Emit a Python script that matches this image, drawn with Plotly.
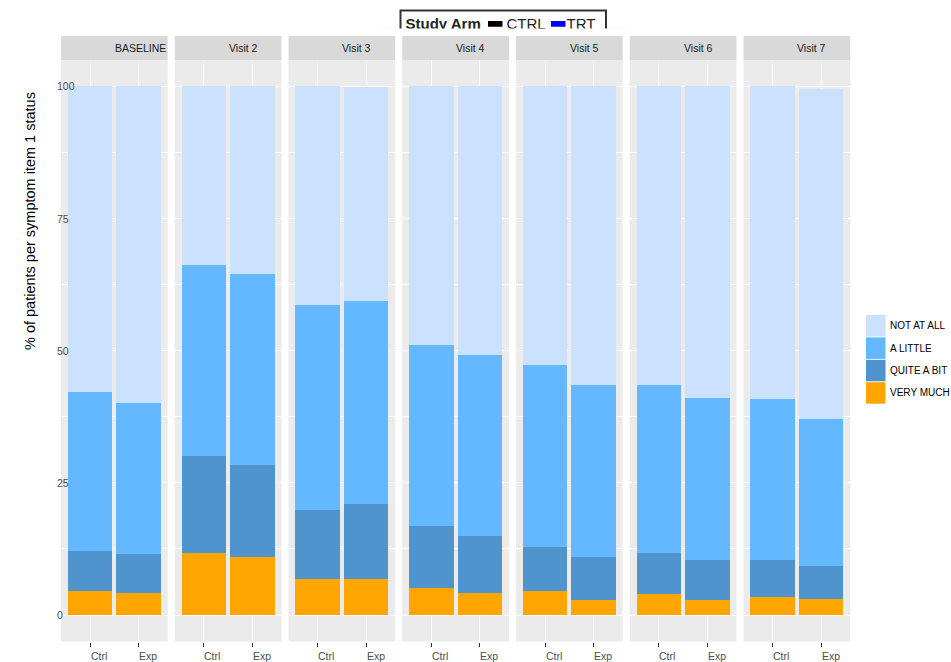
import plotly.graph_objects as go

# ---------------- data ----------------
visits = ["BASELINE", "Visit 2", "Visit 3", "Visit 4", "Visit 5", "Visit 6", "Visit 7"]
arms = ["Ctrl", "Exp"]
levels = ["VERY MUCH", "QUITE A BIT", "A LITTLE", "NOT AT ALL"]   # stacked bottom -> top
legend_order = ["NOT AT ALL", "A LITTLE", "QUITE A BIT", "VERY MUCH"]
level_colors = {"NOT AT ALL": "#CAE1FF", "A LITTLE": "#63B8FF",
                "QUITE A BIT": "#4F94CD", "VERY MUCH": "#FFA500"}

very_much_ctrl = [4.5, 11.8, 6.9, 5.2, 4.5, 3.9, 3.5]
very_much_exp = [4.1, 11.0, 6.9, 4.1, 2.8, 2.9, 3.1]
quite_a_bit_ctrl = [7.7, 18.2, 13.0, 11.7, 8.4, 7.9, 7.0]
quite_a_bit_exp = [7.5, 17.3, 14.1, 10.9, 8.2, 7.6, 6.2]
a_little_ctrl = [30.0, 36.3, 38.7, 34.2, 34.4, 31.7, 30.4]
a_little_exp = [28.6, 36.3, 38.5, 34.2, 32.5, 30.6, 27.7]
not_at_all_ctrl = [57.8, 33.7, 41.4, 48.9, 52.7, 56.5, 59.1]
not_at_all_exp = [59.8, 35.4, 40.3, 50.8, 56.5, 58.9, 62.6]

series = {
    "VERY MUCH": (very_much_ctrl, very_much_exp),
    "QUITE A BIT": (quite_a_bit_ctrl, quite_a_bit_exp),
    "A LITTLE": (a_little_ctrl, a_little_exp),
    "NOT AT ALL": (not_at_all_ctrl, not_at_all_exp),
}

y_ticks = [0, 25, 50, 75, 100]
y_title = "% of patients per symptom item 1 status"
arm_title = "Study Arm"
arm_names = ["CTRL", "TRT"]
arm_colors = ["#000000", "#0000FF"]

# ---------------- geometry (pixels) ----------------
W, H = 951, 662
FONT = "Liberation Sans, Arial, Helvetica, sans-serif"
px_x = lambda p: p / W
px_y = lambda p: (H - p) / H

panel_x0, panel_step, panel_w = 61.0, 113.75, 106.7
panel_top, panel_bot = 60.0, 641.5
strip_top = 36.0

fig = go.Figure()
layout = dict(
    width=W, height=H, margin=dict(l=0, r=0, t=0, b=0),
    paper_bgcolor="white", plot_bgcolor="#EBEBEB",
    barmode="stack", showlegend=False, hovermode=False,
    font=dict(family=FONT, size=11, color="#4D4D4D"),
)
annotations = []
shapes = []

for i, visit in enumerate(visits):
    s = "" if i == 0 else str(i + 1)
    x0 = panel_x0 + panel_step * i
    x1 = x0 + panel_w
    for lev in levels:
        ctrl, exp = series[lev]
        fig.add_trace(go.Bar(
            x=arms, y=[ctrl[i], exp[i]], width=0.92,
            marker=dict(color=level_colors[lev], line=dict(width=0)),
            xaxis="x" + s, yaxis="y" + s, name=lev, showlegend=False,
        ))
    layout["xaxis" + s] = dict(
        domain=[px_x(x0), px_x(x1)], anchor="y" + s, type="category",
        categoryorder="array", categoryarray=arms, range=[-0.6, 1.6],
        showticklabels=False, ticks="outside", ticklen=4, tickwidth=1.1,
        tickcolor="#333333", showgrid=True, gridcolor="white", gridwidth=1.1,
        zeroline=False, showline=False, fixedrange=True,
    )
    layout["yaxis" + s] = dict(
        domain=[px_y(panel_bot), px_y(panel_top)], anchor="x" + s,
        range=[-5, 105], tickmode="linear", tick0=0, dtick=25,
        showticklabels=False, ticks="", showgrid=True, gridcolor="white",
        gridwidth=1.1, zeroline=False, showline=False, fixedrange=True,
        minor=dict(tickmode="linear", tick0=0, dtick=12.5, showgrid=True,
                   gridcolor="white", gridwidth=0.55, ticks=""),
    )
    # strip
    shapes.append(dict(type="rect", xref="paper", yref="paper",
                       x0=px_x(x0), x1=px_x(x1), y0=px_y(panel_top), y1=px_y(strip_top),
                       fillcolor="#D9D9D9", line=dict(width=0), layer="below"))
    annotations.append(dict(text=visit, xref="paper", yref="paper",
                            x=px_x((x0 + x1) / 2 - 1.5), y=px_y(48.5),
                            xanchor="left", yanchor="middle", showarrow=False,
                            font=dict(family=FONT, size=10.5, color="#1A1A1A")))
    # x tick labels (start at tick)
    for arm in arms:
        annotations.append(dict(text=arm, xref="x" + s, yref="paper", x=arm,
                                y=px_y(655.5), xanchor="left", yanchor="middle",
                                xshift=-1.5, showarrow=False,
                                font=dict(family=FONT, size=10.5, color="#4D4D4D")))

# y tick labels (first panel only)
for v in y_ticks:
    annotations.append(dict(text=str(v), xref="paper", yref="y", x=px_x(54.5), y=v,
                            xanchor="left", yanchor="middle", showarrow=False,
                            font=dict(family=FONT, size=10.5, color="#4D4D4D")))

# y title
annotations.append(dict(text=y_title, xref="paper", yref="paper", x=px_x(30),
                        y=px_y(352), xanchor="center", yanchor="bottom",
                        textangle=-90, showarrow=False,
                        font=dict(family=FONT, size=14.5, color="#000000")))

# right legend (fill levels)
key_x0, key_x1 = 866, 885.5
key_top, key_h, key_gap = 315, 21.5, 0.9
for k, lev in enumerate(legend_order):
    t = key_top + k * (key_h + key_gap)
    shapes.append(dict(type="rect", xref="paper", yref="paper",
                       x0=px_x(key_x0), x1=px_x(key_x1), y0=px_y(t + key_h), y1=px_y(t),
                       fillcolor=level_colors[lev], line=dict(width=0)))
    annotations.append(dict(text=lev, xref="paper", yref="paper", x=px_x(887.5),
                            y=px_y(t + key_h / 2), xanchor="left", yanchor="middle",
                            showarrow=False,
                            font=dict(family=FONT, size=10, color="#000000")))

# top "Study Arm" legend, clipped at its bottom by a small subplot
leg_clip_top, leg_clip_bot = 6.0, 28.5
layout["xaxis8"] = dict(domain=[px_x(380), px_x(630)], range=[380, 630], visible=False,
                        anchor="y8", fixedrange=True)
layout["yaxis8"] = dict(domain=[px_y(leg_clip_bot), px_y(leg_clip_top)],
                        range=[leg_clip_bot, leg_clip_top], visible=False,
                        anchor="x8", fixedrange=True)
fig.add_trace(go.Scatter(x=[370, 640, 640, 370], y=[0, 0, 40, 40], fill="toself",
                         fillcolor="white", mode="lines", line=dict(width=0, color="white"),
                         xaxis="x8", yaxis="y8", showlegend=False))
fig.add_trace(go.Scatter(x=[400.5, 400.5, 606, 606], y=[40, 10.5, 10.5, 40], mode="lines",
                         line=dict(color="#333333", width=2), xaxis="x8", yaxis="y8",
                         showlegend=False))
for kx, col in zip([488, 551], arm_colors):
    fig.add_trace(go.Scatter(x=[kx, kx + 14.5, kx + 14.5, kx], y=[21, 21, 26.8, 26.8],
                             fill="toself", fillcolor=col, mode="lines",
                             line=dict(width=0, color=col), xaxis="x8", yaxis="y8",
                             showlegend=False))
fig.add_trace(go.Scatter(x=[405.5, 506.5, 566.5], y=[24.8, 24.8, 24.8], mode="text",
                         text=["<b>" + arm_title + "</b>"] + arm_names,
                         textposition="middle right", cliponaxis=True,
                         textfont=dict(family=FONT, size=15, color="#222222"),
                         xaxis="x8", yaxis="y8", showlegend=False))

layout["annotations"] = annotations
layout["shapes"] = shapes
fig.update_layout(**layout)
fig.write_html("out.html")
